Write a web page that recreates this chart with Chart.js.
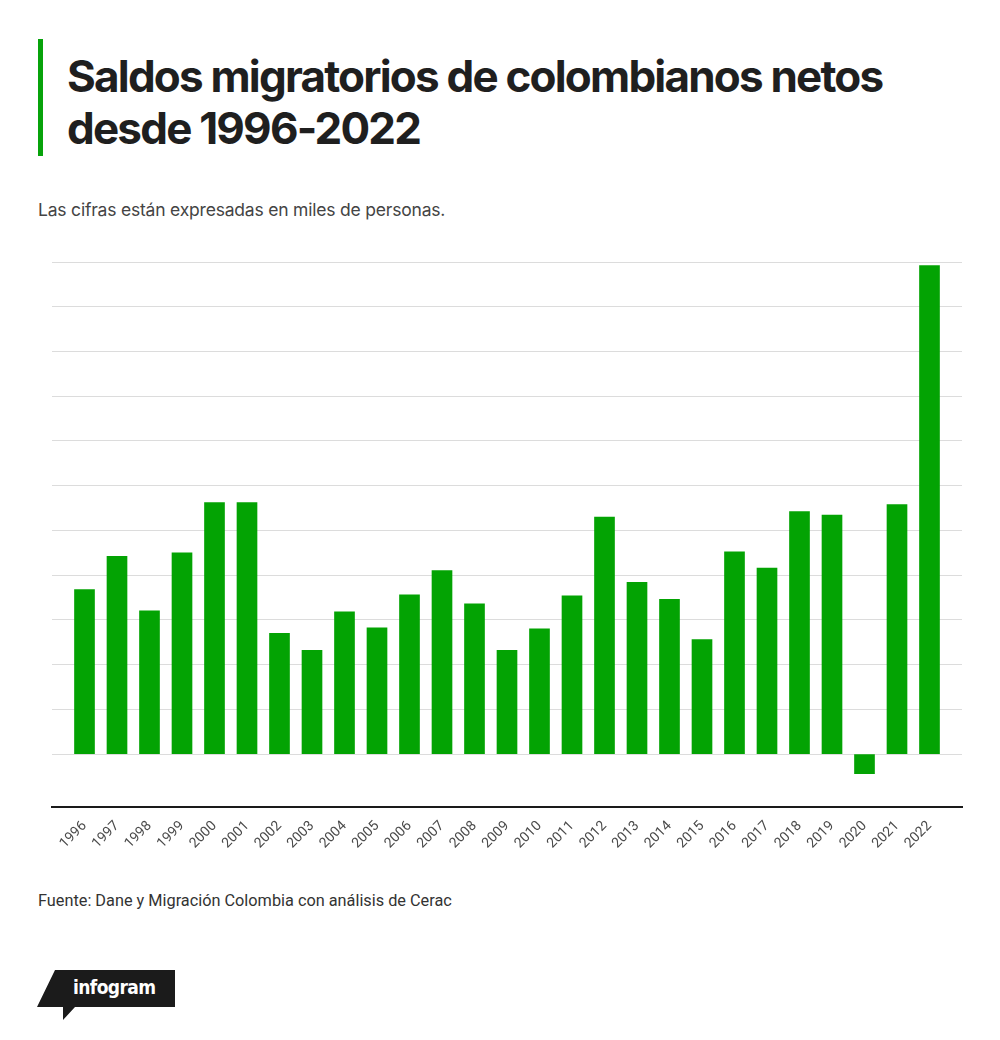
<!DOCTYPE html>
<html lang="es">
<head>
    <meta charset="UTF-8">
    <title>Saldos migratorios de colombianos netos</title>
    <script src="https://cdn.jsdelivr.net/npm/chart.js"></script>
    <style>
        body {
            margin: 0;
            background: #fff;
            width: 1000px;
            height: 1040px;
            position: relative;
            overflow: hidden;
            font-family: Inter, Arial, sans-serif;
        }

        .accent {
            position: absolute;
            left: 38px;
            top: 39px;
            width: 5px;
            height: 117px;
            background: #07a30b;
        }

        h1 {
            position: absolute;
            left: 67px;
            top: 50px;
            margin: 0;
            font-size: 44px;
            line-height: 52px;
            font-weight: 700;
            letter-spacing: -1.8px;
            color: #1f1f1f;
        }

        .subtitle {
            position: absolute;
            left: 38px;
            top: 199px;
            font-size: 17.5px;
            color: #444;
            letter-spacing: -0.2px;
        }

        .chart-box {
            position: absolute;
            left: 0;
            top: 240px;
            width: 1000px;
            height: 615px;
        }

        .source {
            position: absolute;
            left: 38px;
            top: 891px;
            font-family: Roboto, Arial, sans-serif;
            font-size: 16.3px;
            color: #333;
        }

        .logo {
            position: absolute;
            left: 37px;
            top: 970px;
            width: 138px;
            height: 50px;
            background: #1b1b1b;
            clip-path: polygon(18px 0, 138px 0, 138px 37px, 38px 37px, 26px 50px, 26px 37px, 0 37px);
        }

        .logo span {
            position: absolute;
            left: 36px;
            top: 6px;
            color: #fff;
            font-family: "DejaVu Sans Condensed", "Liberation Sans Narrow", sans-serif;
            font-weight: bold;
            font-size: 19px;
            letter-spacing: -0.6px;
        }
    </style>
</head>
<body>
    <div class="accent"></div>
    <h1>Saldos migratorios de colombianos netos<br>desde 1996-2022</h1>
    <div class="subtitle">Las cifras están expresadas en miles de personas.</div>
    <div class="chart-box"><canvas id="migraChart"></canvas></div>
    <div class="source">Fuente: Dane y Migración Colombia con análisis de Cerac</div>
    <div class="logo"><span>infogram</span></div>

    <script>
        // saldo neto, miles de personas
        const years = ['1996', '1997', '1998', '1999', '2000', '2001', '2002', '2003', '2004',
            '2005', '2006', '2007', '2008', '2009', '2010', '2011', '2012', '2013', '2014',
            '2015', '2016', '2017', '2018', '2019', '2020', '2021', '2022'];
        const saldo = [184, 221, 160, 225, 281, 281, 135, 116, 159,
            141, 178, 205, 168, 116, 140, 177, 265, 192, 173,
            128, 226, 208, 271, 267, -22, 279, 546];

        const points = saldo.map((v, i) => ({ x: i, y: v }));

        new Chart(document.getElementById('migraChart').getContext('2d'), {
            type: 'bar',
            data: {
                datasets: [{
                    data: points,
                    backgroundColor: '#03a303',
                    barThickness: 20
                }]
            },
            options: {
                responsive: true,
                maintainAspectRatio: false,
                animation: false,
                layout: {
                    padding: { left: 52, right: 38, top: 22, bottom: 0 }
                },
                plugins: {
                    legend: { display: false },
                    tooltip: { enabled: false }
                },
                scales: {
                    x: {
                        type: 'linear',
                        offset: false,
                        min: -1,
                        max: 27,
                        grid: { display: false },
                        border: { display: true, color: '#1a1a1a', width: 2 },
                        ticks: {
                            stepSize: 1,
                            autoSkip: false,
                            minRotation: 45,
                            maxRotation: 45,
                            color: '#4a4a4a',
                            font: { family: 'Roboto, Arial, sans-serif', size: 14 },
                            callback: (value) => years[value] || ''
                        }
                    },
                    y: {
                        min: -59,
                        max: 550,
                        ticks: { display: false, stepSize: 50 },
                        border: { display: false },
                        grid: {
                            color: '#dcdcdc',
                            drawTicks: false
                        }
                    }
                }
            }
        });
    </script>
</body>
</html>
